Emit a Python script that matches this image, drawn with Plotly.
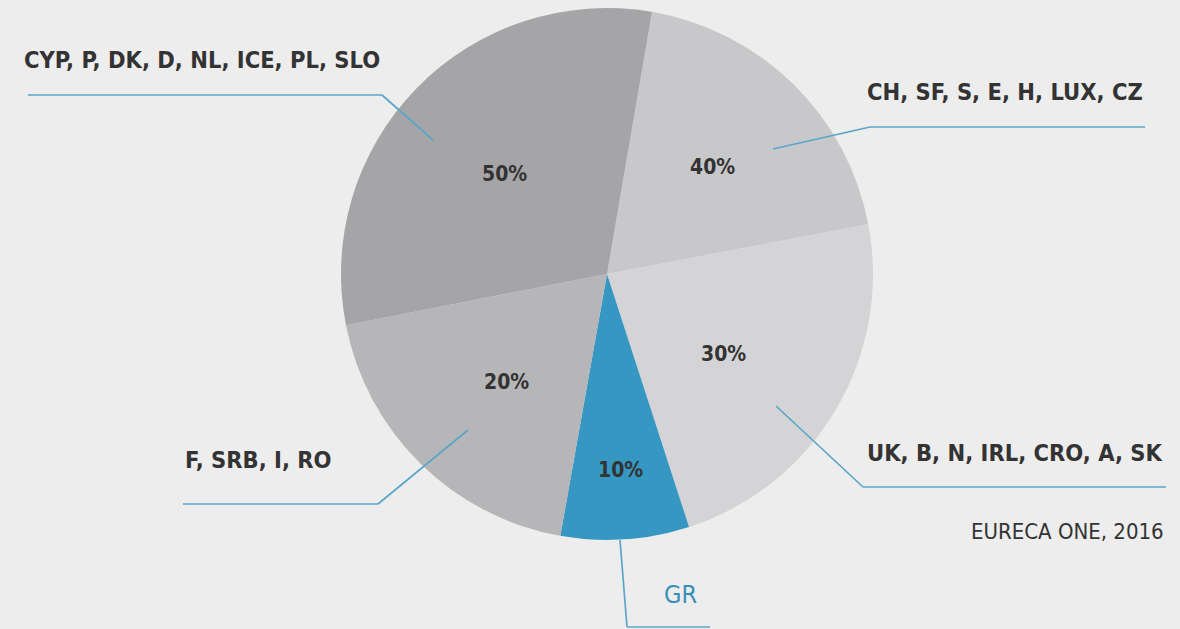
import math
import plotly.graph_objects as go

# ---- data ----
shares = ["40%", "30%", "10%", "20%", "50%"]
slice_sizes = [19.3, 23.0, 7.8, 19.1, 30.8]
countries = [
    "CH, SF, S, E, H, LUX, CZ",
    "UK, B, N, IRL, CRO, A, SK",
    "GR",
    "F, SRB, I, RO",
    "CYP, P, DK, D, NL, ICE, PL, SLO",
]
source_note = "EURECA ONE, 2016"

# ---- style ----
W, H = 1180, 629
CX, CY, R = 607, 274, 266
START = 9.75  # degrees clockwise from 12 o'clock
slice_colors = ["#c8c8ca", "#d4d4d6", "#3597c2", "#b6b6b8", "#a5a5a7"]
BG = "#ededed"
TXT = "#333333"
LINE = "#5aa6c8"
FONT_B = "DejaVu Sans Condensed, Liberation Sans Narrow, Roboto, sans-serif"
label_rfrac = [0.565, 0.53, 0.737, 0.556, 0.54]
label_dang = [0, 4, 0, -1.5, 0]


def px(x):
    return x / W


def py(y):
    return 1 - y / H


fig = go.Figure(
    go.Pie(
        values=slice_sizes,
        labels=shares,
        sort=False,
        direction="clockwise",
        rotation=START,
        marker=dict(colors=slice_colors, line=dict(width=0)),
        textinfo="none",
        hoverinfo="label",
        showlegend=False,
        domain=dict(x=[px(CX - R), px(CX + R)], y=[py(CY + R), py(CY - R)]),
    )
)

annotations = []
total = sum(slice_sizes)
acc = START
for s, v, rf, da in zip(shares, slice_sizes, label_rfrac, label_dang):
    span = v / total * 360
    mid = math.radians(acc + span / 2 + da)
    acc += span
    x = CX + rf * R * math.sin(mid)
    y = CY - rf * R * math.cos(mid)
    annotations.append(dict(
        x=px(x), y=py(y), xref="paper", yref="paper", text=s, showarrow=False,
        font=dict(family=FONT_B, size=21, color=TXT, weight="bold"),
        xanchor="center", yanchor="middle",
    ))

# country group labels: (text index, x, y, anchor)
label_pos = [
    (0, 1145, 92, "right"),
    (1, 1166, 453, "right"),
    (3, 183, 460, "left"),
    (4, 22, 60, "left"),
]
for i, x, y, anc in label_pos:
    annotations.append(dict(
        x=px(x), y=py(y), xref="paper", yref="paper", text=countries[i], showarrow=False,
        font=dict(family=FONT_B, size=23.5, color=TXT, weight="bold"),
        xanchor=anc, yanchor="middle",
    ))
annotations.append(dict(
    x=px(662), y=py(594), xref="paper", yref="paper", text=countries[2], showarrow=False,
    font=dict(family=FONT_B, size=25, color="#3a8fb8"),
    xanchor="left", yanchor="middle",
))
annotations.append(dict(
    x=px(1166), y=py(531), xref="paper", yref="paper", text=source_note, showarrow=False,
    font=dict(family=FONT_B, size=22, color=TXT),
    xanchor="right", yanchor="middle",
))

# leader lines (pixel polylines)
leaders = [
    [(28, 95), (382, 95), (433, 140)],
    [(773, 149), (870, 127), (1145, 127)],
    [(776, 406), (863, 487), (1166, 487)],
    [(468, 430), (378, 504), (183, 504)],
    [(620, 540), (627, 627), (710, 627)],
]
shapes = []
for pts in leaders:
    for (x0, y0), (x1, y1) in zip(pts[:-1], pts[1:]):
        shapes.append(dict(
            type="line", xref="paper", yref="paper",
            x0=px(x0), y0=py(y0), x1=px(x1), y1=py(y1),
            line=dict(color=LINE, width=1.7),
        ))

fig.update_layout(
    width=W, height=H,
    margin=dict(l=0, r=0, t=0, b=0),
    paper_bgcolor=BG, plot_bgcolor=BG,
    annotations=annotations, shapes=shapes,
)
fig.write_html(
    "out.html",
    config={"displayModeBar": False},
    post_script="document.body.style.margin='0';document.body.style.padding='0';"
                "document.body.style.background='%s';" % BG,
)
